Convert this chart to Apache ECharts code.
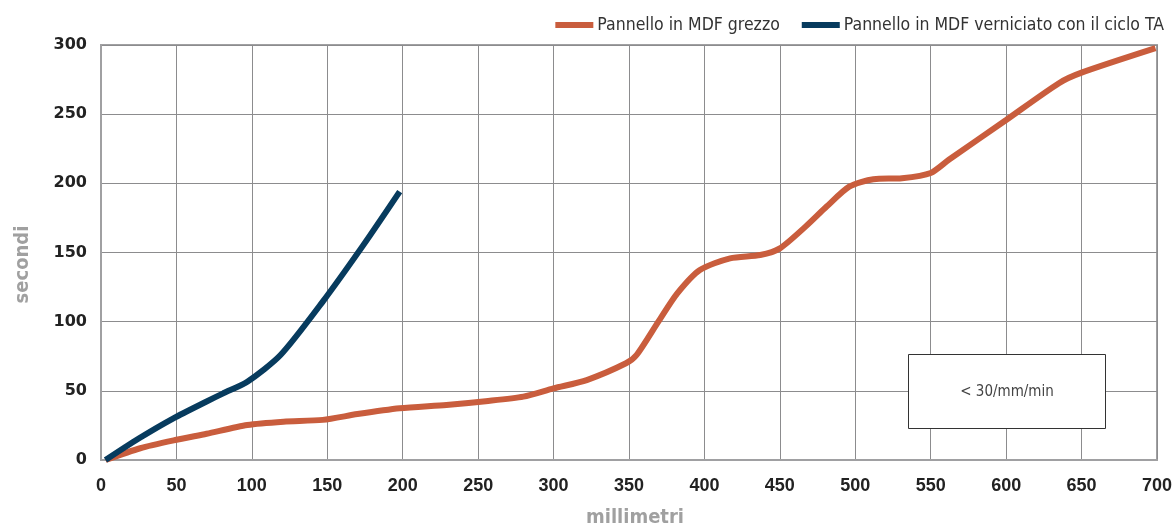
<!DOCTYPE html>
<html>
<head>
<meta charset="utf-8">
<script src="https://cdn.jsdelivr.net/npm/echarts@6/dist/echarts.min.js"></script>
<style>
html,body{margin:0;padding:0;background:#fff;width:100%;height:100%;overflow:hidden;}
#chart{width:100%;height:100%;}
</style>
</head>
<body>
<div id="chart"></div>
<script>
// Series names
const seriesNames = ['Pannello in MDF grezzo', 'Pannello in MDF verniciato con il ciclo TA'];
// Axis tick labels / ranges
const xTicks = [0, 50, 100, 150, 200, 250, 300, 350, 400, 450, 500, 550, 600, 650, 700];
const yTicks = [0, 50, 100, 150, 200, 250, 300];
// Data: [millimetri, secondi]
const grezzo = [
  [3, 0], [26, 8.5], [50, 14.6], [70, 19], [97, 25.3], [121, 27.7], [147, 29],
  [170, 33.2], [198, 37.4], [229, 39.8], [255, 42.5], [280, 45.8], [300, 51.8],
  [322, 57.8], [348, 69.9], [355, 75.9], [370, 101], [382, 120.5], [397, 137.4],
  [417, 145.8], [437, 148.2], [450, 153], [467, 168.7], [481, 183.2], [496, 197.6],
  [512, 203], [531, 203.7], [550, 207.5], [562, 217], [600, 245.8], [635, 272.4],
  [650, 280], [699, 297.7]
];
const verniciato = [
  [3, 0], [25, 15.5], [48, 30.1], [70, 42.3], [81, 48.2], [97, 56.6],
  [119, 75.9], [147, 114.5], [174, 155.5], [198, 194]
];
const boxLabel = '< 30/mm/min';

const cond = '"DejaVu Sans Condensed", "DejaVu Sans", sans-serif';
const chart = echarts.init(document.getElementById('chart'));
chart.setOption({
  animation: false,
  backgroundColor: '#fff',
  grid: {
    left: 101, right: 16, top: 45, bottom: 64,
    outerBoundsMode: 'none', containLabel: false,
    show: true, borderColor: '#a0a0a2', borderWidth: 2
  },
  legend: {
    right: 4, top: 11,
    icon: 'rect', itemWidth: 38, itemHeight: 6, itemGap: 22,
    textStyle: { fontFamily: cond, fontSize: 17.5, color: '#333', padding: [0, 0, 0, -1] },
    data: seriesNames
  },
  xAxis: {
    type: 'value', min: xTicks[0], max: xTicks[xTicks.length - 1], interval: 50,
    name: 'millimetri', nameLocation: 'middle', nameGap: 48,
    nameTextStyle: { fontFamily: cond, fontSize: 20, fontWeight: 'bold', color: '#a0a0a0', padding: [0, 0, 0, 12] },
    axisLine: { lineStyle: { color: '#a0a0a2', width: 2 } },
    axisTick: { show: false },
    axisLabel: { margin: 17, fontFamily: '"Liberation Sans", Arial, sans-serif', fontSize: 18, fontWeight: 'bold', color: '#222' },
    splitLine: { lineStyle: { color: '#8c8c8e', width: 1 } }
  },
  yAxis: {
    type: 'value', min: yTicks[0], max: yTicks[yTicks.length - 1], interval: 50,
    name: 'secondi', nameLocation: 'middle', nameGap: 68, nameRotate: 90,
    nameTextStyle: { fontFamily: cond, fontSize: 20, fontWeight: 'bold', color: '#a0a0a0', padding: [0, 24, 0, 0] },
    axisLine: { show: true, lineStyle: { color: '#a0a0a2', width: 2 } },
    axisTick: { show: false },
    axisLabel: { margin: 14, fontFamily: '"DejaVu Sans", sans-serif', fontSize: 16, fontWeight: 'bold', color: '#222' },
    splitLine: { lineStyle: { color: '#8c8c8e', width: 1 } }
  },
  series: [
    {
      name: seriesNames[0], type: 'line', data: grezzo, smooth: 0.25, symbol: 'none',
      lineStyle: { color: '#c95d3d', width: 6 }, itemStyle: { color: '#c95d3d' }, z: 3
    },
    {
      name: seriesNames[1], type: 'line', data: verniciato, smooth: 0.25, symbol: 'none',
      lineStyle: { color: '#073b5e', width: 6 }, itemStyle: { color: '#073b5e' }, z: 4
    }
  ],
  graphic: [
    {
      type: 'rect', shape: { x: 908.5, y: 354.5, width: 197, height: 74 },
      style: { fill: '#fff', stroke: '#333', lineWidth: 1 }, z: 10
    },
    {
      type: 'text', x: 1007, y: 392,
      style: { text: boxLabel, fontFamily: cond, fontSize: 15, fill: '#444', align: 'center', verticalAlign: 'middle' }, z: 11
    }
  ]
});
window.addEventListener('resize', () => chart.resize());
</script>
</body>
</html>
